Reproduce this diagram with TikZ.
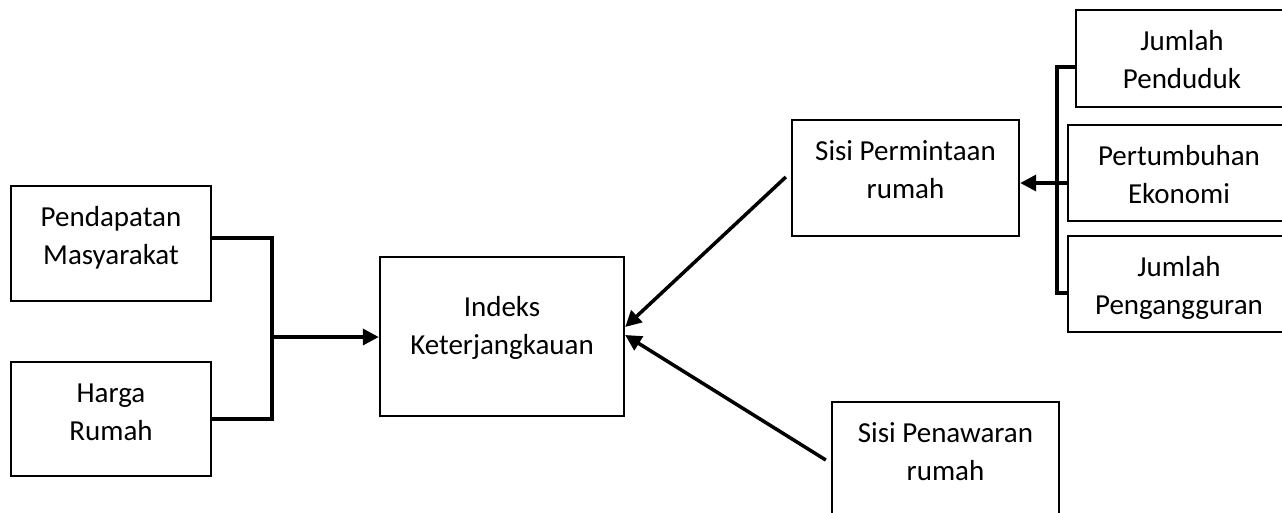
\documentclass[tikz,border=0pt]{standalone}
\usepackage{fontspec}
\setmainfont{Carlito}
\usetikzlibrary{arrows.meta,calc}
\newcommand\twol[2]{\strut #1\\\strut #2}
\begin{document}
\begin{tikzpicture}[x=1pt,y=-1pt,
 box/.style={draw,line width=2.4pt,inner sep=0pt,rectangle},
 txt/.style={align=center,inner sep=0pt,font=\fontsize{29}{38}\selectfont},
 conn/.style={line width=3.5pt},
 arr/.style={conn,-{Triangle[length=16pt,width=16pt]}}]
\useasboundingbox (0,0) rectangle (1282,512);
\clip (0,0) rectangle (1282,512);
% boxes
\node[box,minimum width=200pt,minimum height=115pt] (pend) at (111,243.5) {};
\node[box,minimum width=200pt,minimum height=114pt] (harga) at (111,419) {};
\node[box,minimum width=244pt,minimum height=159pt] (ik) at (502,336.5) {};
\node[box,minimum width=227pt,minimum height=116pt] (sp) at (905.5,178) {};
\node[box,minimum width=227pt,minimum height=128pt] (pw) at (945.5,466) {};
\node[box,minimum width=214pt,minimum height=97pt] (jp) at (1183,58.5) {};
\node[box,minimum width=222pt,minimum height=96pt] (pe) at (1179,173) {};
\node[box,minimum width=222pt,minimum height=96pt] (jg) at (1179,284) {};
% texts
\node[txt] (pendT) at (111,186+52) {\twol{Pendapatan}{Masyarakat}};
\node[txt] (hargaT) at (111,362+52) {\twol{Harga}{Rumah}};
\node[txt] (ikT) at (502,257+71) {\twol{Indeks}{Keterjangkauan}};
\node[txt] (spT) at (905.5,120+52) {\twol{Sisi Permintaan}{rumah}};
\node[txt] (pwT) at (945.5,402+52) {\twol{Sisi Penawaran}{rumah}};
\node[txt] (jpT) at (1182,10+52) {\twol{Jumlah}{Penduduk}};
\node[txt] (peT) at (1179,125+52) {\twol{Pertumbuhan}{Ekonomi}};
\node[txt] (jgT) at (1179,236+52) {\twol{Jumlah}{Pengangguran}};
% left bracket
\coordinate (jl) at (272,337);
\draw[conn] ([yshift=5.5pt]pend.east) -| (jl) |- (harga.east);
\draw[arr] (jl) -- (ik.west |- jl);
% right bracket
\coordinate (jr) at (1057,183);
\draw[conn] ([yshift=-8.5pt]jp.west) -| (jr) |- ([yshift=-9pt]jg.west);
\draw[arr] (pe.west |- jr) -- (sp.east |- jr);
% arrows to index
\draw[arr] ([xshift=-5pt,yshift=1pt]sp.west) -- ([yshift=9.5pt]ik.east);
\draw[arr] ([xshift=-5pt,yshift=6pt]pw.west) -- ([yshift=1.5pt]ik.east);
\end{tikzpicture}
\end{document}
